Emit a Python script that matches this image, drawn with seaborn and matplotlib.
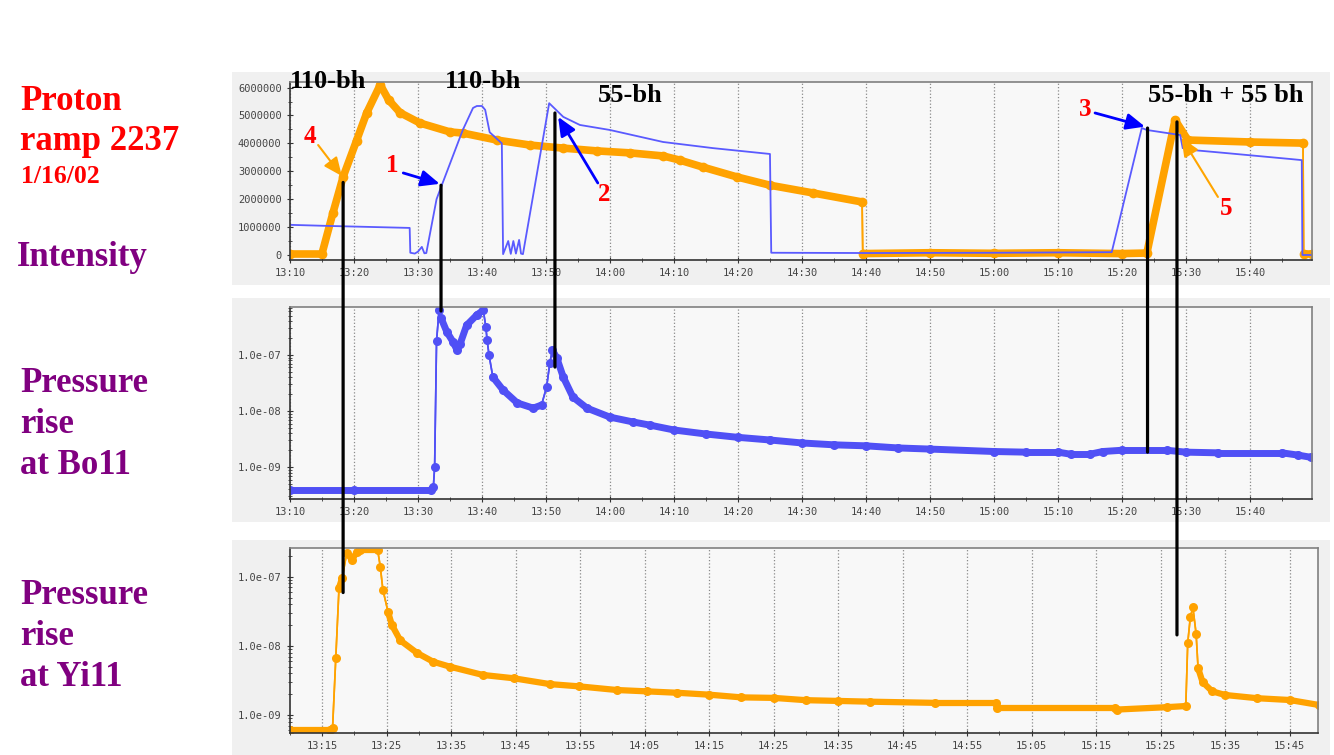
import numpy as np
import matplotlib
matplotlib.use("Agg")
import matplotlib.pyplot as plt
import seaborn as sns
from matplotlib.patches import Rectangle, ConnectionPatch
from matplotlib.collections import LineCollection
from matplotlib.ticker import FixedLocator, FuncFormatter, LogLocator, NullFormatter
from matplotlib.transforms import blended_transform_factory

# === data: minutes after 13:10 ==============================================
# beam intensity (protons, in millions)
blue_int_t = [0, 6.2, 18.7, 18.8, 19.5, 20.0, 20.6, 21.0, 21.3, 22.9, 23.8, 27.0, 28.6,
              29.2, 30.0, 30.5, 31.2, 33.1, 33.3, 34.1, 34.5, 34.9, 35.3, 35.8, 36.1, 36.4,
              40.5, 42.7, 45.3, 50.0, 58.3, 66.1, 75.0, 75.2, 90, 110, 128.4, 133.1, 133.9,
              139.1, 139.5, 141.1, 146.4, 156.3, 158.1, 158.2, 159.7]
blue_int_v = [1.08, 1.04, 0.97, 0.08, 0.05, 0.12, 0.29, 0.06, 0.07, 2.0, 2.55, 4.48, 5.27,
              5.34, 5.34, 5.2, 4.4, 4.0, 0.03, 0.5, 0.04, 0.5, 0.05, 0.54, 0.05, 0.03,
              5.44, 4.95, 4.66, 4.48, 4.05, 3.83, 3.62, 0.08, 0.07, 0.08, 0.1, 4.55, 4.48,
              4.3, 3.83, 3.76, 3.65, 3.44, 3.4, 0.0, 0.0]

yellow_int_t = [0, 5.0, 6.7, 8.3, 10.4, 12.0, 14.1, 15.4, 17.2, 20.3, 25.0, 27.0, 32.3,
                37.5, 42.7, 48.0, 53.1, 58.3, 60.9, 64.5, 69.8, 75.0, 81.8, 89.4, 89.5,
                100, 110, 120, 130, 133.9, 138.3, 140.3, 150, 158.3, 158.4, 159.7]
yellow_int_v = [0.05, 0.05, 1.5, 2.8, 4.1, 5.1, 6.1, 5.56, 5.1, 4.73, 4.41, 4.37, 4.12,
                3.94, 3.83, 3.73, 3.66, 3.55, 3.4, 3.15, 2.8, 2.5, 2.22, 1.9, 0.05,
                0.08, 0.06, 0.08, 0.05, 0.07, 4.84, 4.12, 4.05, 4.01, 0.05, 0.05]

# pressure at Bo11 (blue ring)
bo11_t = [0, 10, 22.0, 22.4, 22.6, 22.9, 23.3, 23.6, 24.5, 25.5, 26.1, 26.6, 27.6, 29.2,
          30.2, 30.6, 30.8, 31.1, 31.7, 33.3, 35.5, 38.0, 39.3, 40.1, 40.6, 41.0, 41.7,
          42.7, 44.2, 46.4, 50.0, 53.6, 56.3, 60, 65, 70, 75, 80, 85, 90, 95, 100, 110,
          115, 120, 122, 125, 127, 130, 137, 140, 145, 155, 157.5, 159.5]
bo11_v = [3.9e-10, 3.9e-10, 3.9e-10, 4.4e-10, 1.0e-9, 1.8e-7, 6.4e-7, 4.6e-7, 2.6e-7,
          1.7e-7, 1.23e-7, 1.6e-7, 3.4e-7, 5.2e-7, 6.3e-7, 3.2e-7, 1.85e-7, 1.0e-7,
          4.05e-8, 2.37e-8, 1.4e-8, 1.13e-8, 1.28e-8, 2.7e-8, 7.2e-8, 1.23e-7, 8.8e-8,
          4.05e-8, 1.78e-8, 1.13e-8, 7.8e-9, 6.4e-9, 5.6e-9, 4.6e-9, 3.9e-9, 3.4e-9,
          3.05e-9, 2.7e-9, 2.5e-9, 2.4e-9, 2.2e-9, 2.1e-9, 1.9e-9, 1.85e-9, 1.85e-9,
          1.7e-9, 1.7e-9, 1.9e-9, 2.0e-9, 2.0e-9, 1.85e-9, 1.8e-9, 1.8e-9, 1.64e-9, 1.5e-9]

# pressure at Yi11 (yellow ring)
yi11_t = [0, 6.2, 6.6, 7.1, 7.6, 8.1, 8.8, 9.6, 10.4, 10.9, 13.6, 14.0, 14.4, 15.2, 15.8,
          17.1, 19.7, 22.2, 24.8, 29.9, 34.7, 40.3, 44.8, 50.7, 55.3, 60, 65, 70, 75, 80,
          85, 90, 100, 109.4, 109.6, 128, 128.2, 136, 138.9, 139.2, 139.6, 140.0, 140.5,
          140.8, 141.5, 143, 145, 150, 155, 159.5]
yi11_v = [6.1e-10, 6.1e-10, 6.5e-10, 6.7e-9, 6.9e-8, 9.7e-8, 2.2e-7, 1.76e-7, 2.3e-7,
          2.4e-7, 2.4e-7, 1.4e-7, 6.5e-8, 3.1e-8, 2.0e-8, 1.2e-8, 7.9e-9, 5.9e-9, 5.0e-9,
          3.8e-9, 3.4e-9, 2.8e-9, 2.6e-9, 2.3e-9, 2.2e-9, 2.1e-9, 1.97e-9, 1.8e-9,
          1.77e-9, 1.64e-9, 1.6e-9, 1.56e-9, 1.5e-9, 1.5e-9, 1.27e-9, 1.27e-9, 1.2e-9,
          1.3e-9, 1.35e-9, 1.1e-8, 2.6e-8, 3.6e-8, 1.5e-8, 4.8e-9, 3.0e-9, 2.2e-9,
          1.95e-9, 1.75e-9, 1.65e-9, 1.4e-9]

# bunch labels, numbered arrows and the links between the panels
bunch_labels = [(0, 6.2, "110-bh"), (24.2, 6.2, "110-bh"), (48.1, 5.7, "55-bh"),
                (134.0, 5.7, "55-bh + 55 bh")]
# (label, text t, text I, arrow tail t, tail I, head t, head I, colour)
arrows = [("4", 3.1, 4.23, 4.4, 3.94, 8.1, 2.83, "#ffa500"),
          ("1", 15.9, 3.19, 17.7, 2.94, 23.4, 2.55, "#0000ff"),
          ("2", 49.1, 2.15, 48.1, 2.58, 41.9, 4.95, "#0000ff"),
          ("3", 124.2, 5.2, 125.8, 5.09, 133.6, 4.6, "#0000ff"),
          ("5", 146.3, 1.68, 145.0, 2.08, 139.3, 4.2, "#ffa500")]
# (t, intensity at top, target panel, pressure at bottom)
links = [(8.3, 2.6, 3, 5.9e-8), (23.6, 2.5, 2, 6.1e-7), (41.4, 5.09, 2, 6.1e-8),
         (134.0, 4.55, 2, 1.85e-9), (138.6, 4.77, 3, 1.44e-8)]

BLUE = "#5a5aff"
BLUE_P = "#5050f5"
ORANGE = "#ffa200"
PURPLE = "#800080"
SERIF = "Liberation Serif"

# === figure ==================================================================
W, H = 1334, 755
plt.rcParams['font.family'] = ['DejaVu Sans Mono']
fig = plt.figure(figsize=(W / 100, H / 100), dpi=100)


def box(x0, y0, x1, y1):
    return [x0 / W, 1 - y1 / H, (x1 - x0) / W, (y1 - y0) / H]


for x0, y0, x1, y1 in [(232, 72, 1330, 285), (232, 298, 1330, 522), (232, 540, 1330, 755)]:
    r = box(x0, y0, x1, y1)
    fig.add_artist(Rectangle((r[0], r[1]), r[2], r[3], transform=fig.transFigure,
                             facecolor="#f0f0f0", edgecolor="none", zorder=-5))

ax1 = fig.add_axes(box(290, 82, 1312, 260))
ax2 = fig.add_axes(box(290, 307, 1312, 499))
ax3 = fig.add_axes(box(290, 548, 1318, 733))

ax1.set_xlim(0, 159.7)
ax2.set_xlim(0, 159.7)
ax3.set_xlim(0, 159.4)
ax1.set_ylim(-0.18e6, 6.2e6)
ax2.set_yscale('log')
ax2.set_ylim(2.7e-10, 7.2e-7)
ax3.set_yscale('log')
ax3.set_ylim(5.5e-10, 2.6e-7)


def band(ax, t, v, color, width, max_slope):
    # thick trace where the samples pile up, thin where the signal jumps
    t = np.asarray(t, float)
    v = np.asarray(v, float)
    pts = ax.transData.transform(np.column_stack([t, v]))
    d = np.diff(pts, axis=0)
    slope = np.abs(d[:, 1]) / np.maximum(np.abs(d[:, 0]), 1e-6)
    segs = np.stack([np.column_stack([t[:-1], v[:-1]]),
                     np.column_stack([t[1:], v[1:]])], axis=1)
    lws = np.where(slope < max_slope, width, 1.2)
    ax.add_collection(LineCollection(segs, linewidths=lws, colors=color,
                                     capstyle='round', joinstyle='round', zorder=1.9))


# intensity
yi_int = np.array(yellow_int_v) * 1e6
band(ax1, yellow_int_t, yi_int, ORANGE, 5.5, 10)
sns.lineplot(x=yellow_int_t, y=yi_int, ax=ax1, color=ORANGE, lw=1.2,
             estimator=None, sort=False, marker='o', markersize=7, markeredgewidth=0)
sns.lineplot(x=blue_int_t, y=np.array(blue_int_v) * 1e6, ax=ax1, color=BLUE, lw=1.3,
             estimator=None, sort=False)
# pressures
band(ax2, bo11_t, bo11_v, BLUE_P, 5.0, 3.5)
sns.lineplot(x=bo11_t, y=bo11_v, ax=ax2, color=BLUE_P, lw=1.2, estimator=None,
             sort=False, marker='o', markersize=6.5, markeredgewidth=0)
band(ax3, yi11_t, yi11_v, ORANGE, 4.5, 3.5)
sns.lineplot(x=yi11_t, y=yi11_v, ax=ax3, color=ORANGE, lw=1.2, estimator=None,
             sort=False, marker='o', markersize=6.5, markeredgewidth=0)


def clock(m, pos=None):
    m = int(round(m)) + 10
    return f"{13 + m // 60}:{m % 60:02d}"


for ax in (ax1, ax2):
    ax.xaxis.set_major_locator(FixedLocator(np.arange(0, 160, 10)))
    ax.xaxis.set_minor_locator(FixedLocator(np.arange(5, 160, 10)))
ax3.xaxis.set_major_locator(FixedLocator(np.arange(5, 160, 10)))
ax3.xaxis.set_minor_locator(FixedLocator(np.arange(0, 160, 10)))

ax1.yaxis.set_major_locator(FixedLocator(np.arange(0, 6.01e6, 1e6)))
ax1.yaxis.set_minor_locator(FixedLocator(np.arange(0.5e6, 6.2e6, 1e6)))
ax1.yaxis.set_major_formatter(FuncFormatter(lambda v, p: f"{int(round(v))}"))
for ax, ticks in ((ax2, [1e-9, 1e-8, 1e-7]), (ax3, [1e-9, 1e-8, 1e-7])):
    ax.yaxis.set_major_locator(FixedLocator(ticks))
    ax.yaxis.set_minor_locator(LogLocator(base=10, subs=np.arange(2, 10), numticks=20))
    ax.yaxis.set_minor_formatter(NullFormatter())
    ax.yaxis.set_major_formatter(FuncFormatter(lambda v, p: f"{v:.1e}"))

for ax in (ax1, ax2, ax3):
    ax.set_facecolor("#f8f8f8")
    ax.xaxis.set_major_formatter(FuncFormatter(clock))
    for s in ax.spines.values():
        s.set_color("#808080")
        s.set_linewidth(1.2)
    ax.spines['left'].set_color("#333333")
    ax.spines['bottom'].set_color("#333333")
    ax.tick_params(which='both', direction='inout', color="#333333", labelcolor="#444444",
                   labelsize=7.5)
    ax.tick_params(which='major', length=5)
    ax.tick_params(which='minor', length=3)
    ax.grid(True, axis='x', which='major', linestyle=':', color="#8a8a8a", linewidth=0.9)
    ax.set_xlabel("")
    ax.set_ylabel("")

# bunch labels and arrows on the intensity panel
for t, v, s in bunch_labels:
    ax1.text(t, v * 1e6, s, family=SERIF, fontweight='bold', fontsize=19, color='black',
             ha='left', va='center', zorder=6)
for lab, tx, vx, t0, v0, t1, v1, col in arrows:
    ax1.text(tx, vx * 1e6, lab, family=SERIF, fontweight='bold', fontsize=18, color='red',
             ha='center', va='center', zorder=6)
    ax1.annotate('', xy=(t1, v1 * 1e6), xytext=(t0, v0 * 1e6),
                 arrowprops=dict(arrowstyle='-|>,head_length=0.8,head_width=0.35',
                                 color=col, lw=2 if col != "#ffa500" else 1.5,
                                 mutation_scale=14, shrinkA=0, shrinkB=0), zorder=6)

# vertical links between the panels
targets = {2: ax2, 3: ax3}
for t, top, k, bottom in links:
    con = ConnectionPatch(xyA=(t, top * 1e6), coordsA=ax1.transData,
                          xyB=(t, bottom),
                          coordsB=blended_transform_factory(ax1.transData, targets[k].transData),
                          color='black', lw=2.3, zorder=10)
    fig.add_artist(con)

# left-hand captions


def ftext(x, y, s, **kw):
    fig.text(x / W, 1 - y / H, s, family=SERIF, fontweight='bold', va='baseline', **kw)


ftext(20, 110, "Proton", color='red', fontsize=25)
ftext(20, 150, "ramp 2237", color='red', fontsize=25)
ftext(21, 183, "1/16/02", color='red', fontsize=18.5)
ftext(17, 266, "Intensity", color=PURPLE, fontsize=25)
for y0, name in [(392, "Bo11"), (604, "Yi11")]:
    for i, s in enumerate(["Pressure", "rise", "at " + name]):
        ftext(20, y0 + 41 * i, s, color=PURPLE, fontsize=25)

fig.savefig("out.png", dpi=100)
